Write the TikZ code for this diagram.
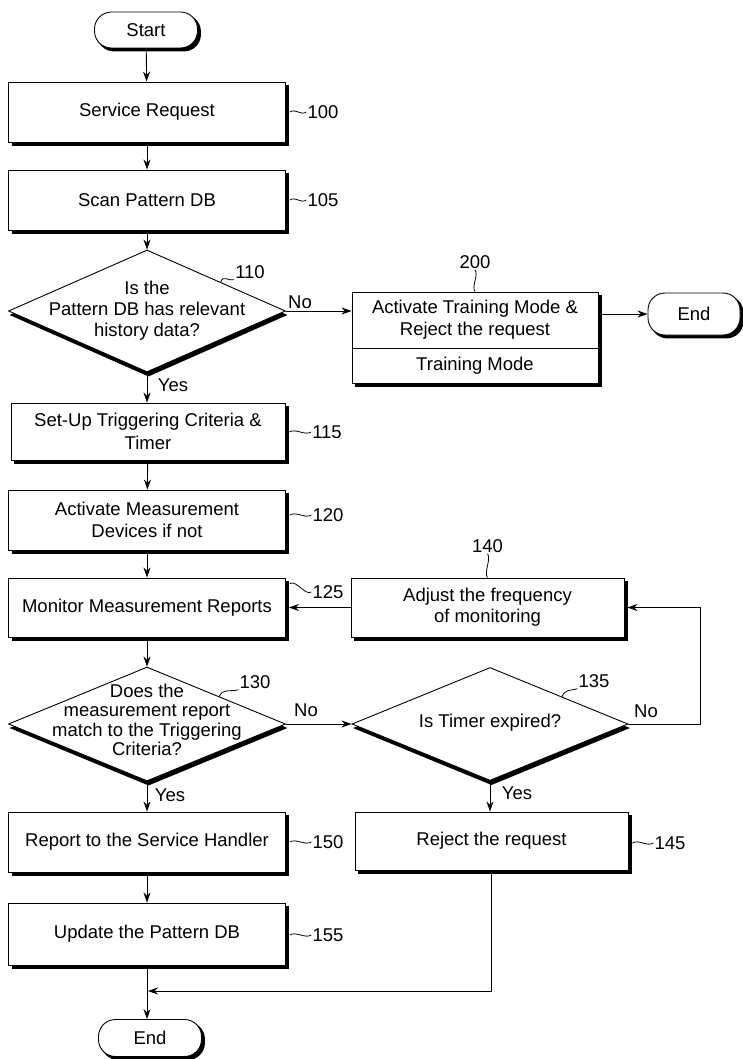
\documentclass[tikz,border=0pt]{standalone}
\usepackage{fontspec}
\setmainfont{Liberation Sans}
\usetikzlibrary{arrows.meta,calc,shapes.geometric,backgrounds}
\begin{document}
\begin{tikzpicture}[x=1pt,y=-1pt,
  font=\fontsize{18.5}{21}\selectfont,
  box/.style={draw,line width=0.9pt,fill=white,minimum width=277pt,minimum height=60pt,align=center,inner sep=2pt},
  dec/.style={diamond,draw,line width=0.9pt,fill=white,inner sep=0pt},
  term/.style={draw,line width=0.9pt,fill=white,rounded corners=17pt,minimum height=36pt,minimum width=103pt,inner sep=0pt},
  lbl/.style={inner sep=1pt},
  txt/.style={align=center,inner sep=0pt},
  arr/.style={line width=0.9pt,-{Stealth[length=10pt,width=7pt]}},
  plain/.style={line width=0.9pt},
  lead/.style={line width=0.8pt},
  shade/.style={fill=black}
]
\useasboundingbox (0,0) rectangle (743,1059);
\begin{scope}[on background layer]
\fill[white] (0,0) rectangle (743,1059);
\end{scope}

% left column
\node[term] (start) at (146,30) {Start};
\node[box] (b100) at (147,112) {Service Request};
\node[box] (b105) at (147,200) {Scan Pattern DB};
\node[dec,minimum width=277pt,minimum height=122pt] (d110) at (147,311) {};
\node[txt,font=\fontsize{18.5}{21}\selectfont] (t110) at (147,311) {Is the\\Pattern DB has relevant\\history data?};
\node[box,minimum width=274pt,minimum height=57pt,font=\fontsize{18.5}{23}\selectfont] (b115) at (148,431.5) {Set-Up Triggering Criteria \&\\Timer};
\node[box,font=\fontsize{18.5}{22}\selectfont] (b120) at (147,520) {Activate Measurement\\Devices if not};
\node[box,minimum height=59pt] (b125) at (147,607.5) {Monitor Measurement Reports};
\node[dec,minimum width=277pt,minimum height=114pt] (d130) at (147,724) {};
\node[txt,font=\fontsize{18.5}{19.5}\selectfont] (t130) at (147,720) {Does the\\measurement report\\match to the Triggering\\Criteria?};
\node[box] (b150) at (147,842) {Report to the Service Handler};
\node[box,minimum height=62pt] (b155) at (147,934) {Update the Pattern DB};
\node[term,minimum height=37pt] (end2) at (150,1038) {End};

% right column
\node[box,minimum width=246pt,minimum height=91pt] (b200) at (475,337.5) {};
\node[txt,font=\fontsize{18.5}{22}\selectfont] (t200a) at (475,320) {Activate Training Mode \&\\Reject the request};
\node[txt,minimum height=34pt] (t200b) at (475,366) {Training Mode};
\draw[plain] (b200.west |- t200b.north) -- (b200.east |- t200b.north);
\node[term,minimum width=92pt,minimum height=42pt] (end1) at (694,314) {End};

\node[box,minimum width=273pt,minimum height=59pt] (b140) at (487.5,607.5) {Adjust the frequency\\of monitoring};
\node[dec,minimum width=276pt,minimum height=113pt] (d135) at (490,724) {};
\node[txt] (t135) at (490,723) {Is Timer expired?};
\node[box,minimum width=273pt,minimum height=58pt] (b145) at (491.5,841) {Reject the request};

% shadows
\begin{scope}[on background layer]
\foreach \n in {b100,b105,b115,b120,b125,b140,b145,b150,b155,b200}{
  \fill[shade] ($(\n.north west)+(3.5,3.5)$) rectangle ($(\n.south east)+(3.5,3.5)$);
}
\foreach \n in {d110,d130,d135}{
  \fill[shade] ($(\n.north)+(1.5,4)$) -- ($(\n.east)+(1.5,4)$) -- ($(\n.south)+(1.5,4)$) -- ($(\n.west)+(1.5,4)$) -- cycle;
}
\foreach \n in {start,end1,end2}{
  \fill[shade,rounded corners=17pt] ($(\n.north west)+(3,3)$) rectangle ($(\n.south east)+(3,3)$);
}
\end{scope}

% reference numerals
\node[lbl] (l100) at (323,112) {100};
\node[lbl] (l105) at (323,200) {105};
\node[lbl] (l110) at (250,272) {110};
\node[lbl] (l115) at (327,432) {115};
\node[lbl] (l120) at (328,515) {120};
\node[lbl] (l125) at (328,592) {125};
\node[lbl] (l130) at (255,682) {130};
\node[lbl] (l135) at (594,681) {135};
\node[lbl] (l140) at (487.5,546) {140};
\node[lbl] (l145) at (670,843) {145};
\node[lbl] (l150) at (328,842) {150};
\node[lbl] (l155) at (328,935) {155};
\node[lbl] (l200) at (475,262) {200};

% leaders
\foreach \b/\l in {b100/l100,b105/l105,b115/l115,b120/l120,b145/l145,b150/l150,b155/l155}{
  \draw[lead] ([xshift=4pt]\b.east |- \l.west) .. controls +(6,-4) and +(-6,4) .. (\l.west);
}
\draw[lead] ([xshift=4pt,yshift=-6pt]b125.north east) .. controls +(6,-4) and +(-6,4) .. (l125.west);
\draw[lead] (l140.south) .. controls +(4,5) and +(-4,-5) .. (b140.north);
\draw[lead] (l200.south) .. controls +(4,5) and +(-4,-5) .. (b200.north);
\draw[lead] ($(d110.north)!0.53!(d110.east)$) .. controls +(3,-8) and +(-6,2) .. (l110.south west);
\draw[lead] ($(d130.north)!0.52!(d130.east)$) .. controls +(3,-8) and +(-6,2) .. (l130.south west);
\draw[lead] ($(d135.north)!0.52!(d135.east)$) .. controls +(3,-8) and +(-6,2) .. (l135.south west);

% connectors
\draw[arr] (start) -- (b100);
\draw[arr] (b100) -- (b105);
\draw[arr] (b105.south) -- (d110.north);
\draw[arr] (d110.south) -- (b115.north -| d110.south);
\draw[arr] (d110.east) -- (b200.west |- d110.east);
\draw[arr] (b200.east |- end1.west) -- (end1.west);
\draw[arr] (b115) -- (b120);
\draw[arr] (b120) -- (b125);
\draw[arr] (b125.south) -- (d130.north);
\draw[arr] (b140.west) -- ([xshift=3pt]b125.east);
\draw[arr] (d130.east) -- (d135.west);
\coordinate (fb) at (700,724);
\draw[arr] (d135.east) -- (fb) |- ([xshift=3pt]b140.east);
\draw[arr] (d130.south) -- (b150.north -| d130.south);
\draw[arr] (d135.south) -- (b145.north -| d135.south);
\draw[arr] (b150) -- (b155);
\coordinate (merge) at (148,991);
\draw[arr] (b145.south) |- (merge);
\draw[arr] (b155.south) -- (end2.north -| b155.south);

% branch labels
\node[lbl] (no110) at (300,302) {No};
\node[lbl] (yes110) at (173,385) {Yes};
\node[lbl] (no130) at (306,710) {No};
\node[lbl] (yes130) at (170,795) {Yes};
\node[lbl] (no135) at (646,711) {No};
\node[lbl] (yes135) at (517,793) {Yes};
\end{tikzpicture}
\end{document}
